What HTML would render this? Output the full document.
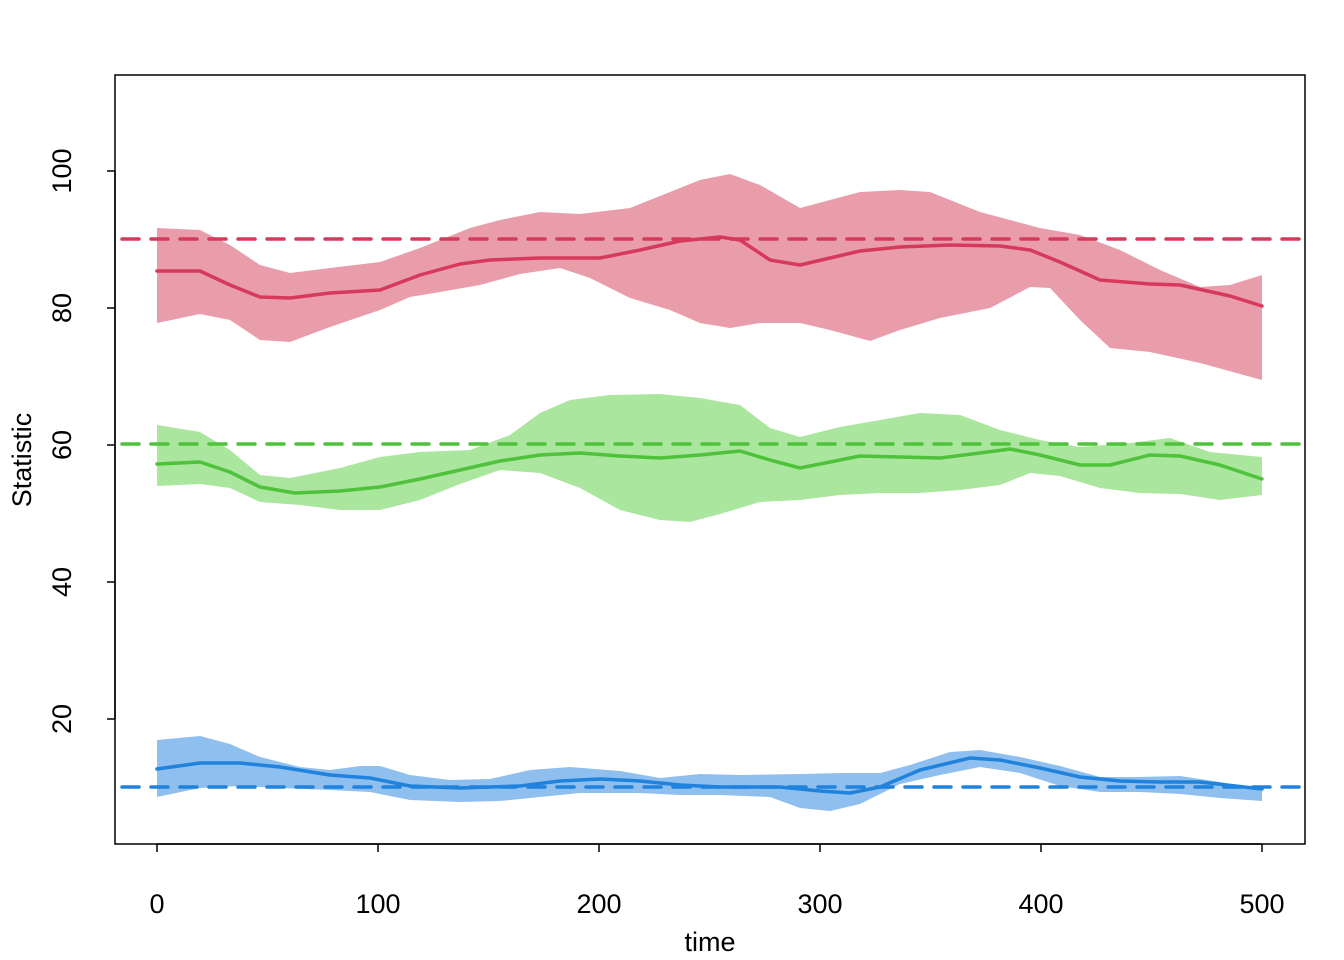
<!DOCTYPE html>
<html><head><meta charset="utf-8"><style>body{margin:0;background:#fff}svg{display:block}</style></head><body>
<svg width="1344" height="960" viewBox="0 0 1344 960" xmlns="http://www.w3.org/2000/svg" font-family="Liberation Sans, Arial, sans-serif">
<rect width="1344" height="960" fill="#fff"/>
<polygon fill="#E99DAA" points="157,228 200,230 230,245 260,265 290,273 330,268 380,262 420,248 470,228 500,220 540,212 580,214 630,208 670,192 700,180 730,174 760,185 800,208 830,200 860,192 900,190 930,192 980,212 1040,228 1080,235 1120,250 1160,270 1200,287 1230,285 1262,275 1262,380 1200,363 1150,352 1110,348 1080,320 1050,288 1030,287 990,308 940,318 900,330 870,341 830,330 800,323 760,323 730,328 700,323 670,310 630,298 590,278 560,268 520,274 480,285 440,292 410,297 380,310 330,327 290,342 260,340 230,320 200,314 157,323"/>
<polygon fill="#AAE69D" points="157,425 200,432 230,450 260,475 290,478 340,468 380,457 420,452 470,450 510,435 540,413 570,400 610,395 660,394 700,398 740,405 770,428 800,437 840,427 880,420 920,413 960,415 1000,430 1040,440 1080,447 1130,443 1170,438 1210,452 1262,457 1262,495 1220,500 1180,494 1140,493 1100,488 1060,476 1030,473 1000,485 960,490 920,493 880,493 840,495 800,500 760,502 720,514 690,522 660,520 620,510 580,488 540,473 500,470 460,484 420,500 380,510 340,510 300,505 260,502 230,488 200,484 157,486"/>
<polygon fill="#8FBFEE" points="157,740 200,736 230,744 260,757 300,767 330,770 360,766 380,766 410,775 450,780 490,779 530,770 570,767 620,771 660,778 700,774 740,775 800,774 840,773 880,773 910,765 950,752 980,750 1020,757 1060,766 1100,777 1140,777 1180,776 1220,782 1262,791 1262,801 1220,798 1180,794 1140,792 1100,792 1060,786 1020,773 980,767 940,775 900,784 860,804 830,811 800,808 770,797 720,795 680,795 640,793 580,793 540,797 500,801 460,802 410,800 370,792 330,790 280,788 240,786 200,788 157,797"/>
<g stroke-width="3.5" stroke-dasharray="17,12" stroke-linecap="round" fill="none">
<line x1="122" y1="239" x2="1305" y2="239" stroke="#D6395C"/>
<line x1="122" y1="444" x2="1305" y2="444" stroke="#4EC23A"/>
<line x1="122" y1="787" x2="1305" y2="787" stroke="#1F82DD"/>
</g>
<g fill="none" stroke-width="3.5" stroke-linejoin="round" stroke-linecap="round">
<polyline stroke="#D6395C" points="157,271 200,271 230,285 260,297 290,298 330,293 380,290 420,275 460,264 490,260 540,258 600,258 640,250 680,241 720,237 740,240 770,260 800,265 830,258 860,251 900,247 950,245 1000,246 1030,250 1060,262 1100,280 1150,284 1180,285 1230,296 1262,306"/>
<polyline stroke="#4EC23A" points="157,464 200,462 230,472 260,487 295,493 340,491 380,487 420,479 460,470 500,461 540,455 580,453 620,456 660,458 700,455 740,451 770,460 800,468 830,462 860,456 900,457 940,458 980,453 1010,449 1040,455 1080,465 1110,465 1150,455 1180,456 1220,465 1262,479"/>
<polyline stroke="#1F82DD" points="157,769 200,763 240,763 280,767 330,775 370,778 410,786 460,788 520,786 560,781 600,779 640,781 680,785 720,787 780,787 820,791 850,793 880,787 920,770 970,758 1000,760 1040,768 1080,777 1120,781 1160,782 1200,782 1262,789"/>
</g>
<rect x="115" y="75" width="1190" height="769" fill="none" stroke="#000" stroke-width="1.5"/>
<g stroke="#000" stroke-width="1.5">
<line x1="157" y1="844" x2="1262" y2="844"/>
<line x1="157" y1="844" x2="157" y2="852"/><line x1="378" y1="844" x2="378" y2="852"/><line x1="599" y1="844" x2="599" y2="852"/><line x1="820" y1="844" x2="820" y2="852"/><line x1="1041" y1="844" x2="1041" y2="852"/><line x1="1262" y1="844" x2="1262" y2="852"/>
<line x1="115" y1="171" x2="115" y2="719"/>
<line x1="107" y1="171" x2="115" y2="171"/><line x1="107" y1="308" x2="115" y2="308"/><line x1="107" y1="445" x2="115" y2="445"/><line x1="107" y1="582" x2="115" y2="582"/><line x1="107" y1="719" x2="115" y2="719"/>
</g>
<g font-size="27" text-anchor="middle" fill="#000">
<text x="157" y="913">0</text><text x="378" y="913">100</text><text x="599" y="913">200</text><text x="820" y="913">300</text><text x="1041" y="913">400</text><text x="1262" y="913">500</text>
<text x="710" y="951">time</text>
<text transform="translate(71,171) rotate(-90)">100</text>
<text transform="translate(71,308) rotate(-90)">80</text>
<text transform="translate(71,445) rotate(-90)">60</text>
<text transform="translate(71,582) rotate(-90)">40</text>
<text transform="translate(71,719) rotate(-90)">20</text>
<text transform="translate(31,460) rotate(-90)">Statistic</text>
</g>
</svg>
</body></html>
